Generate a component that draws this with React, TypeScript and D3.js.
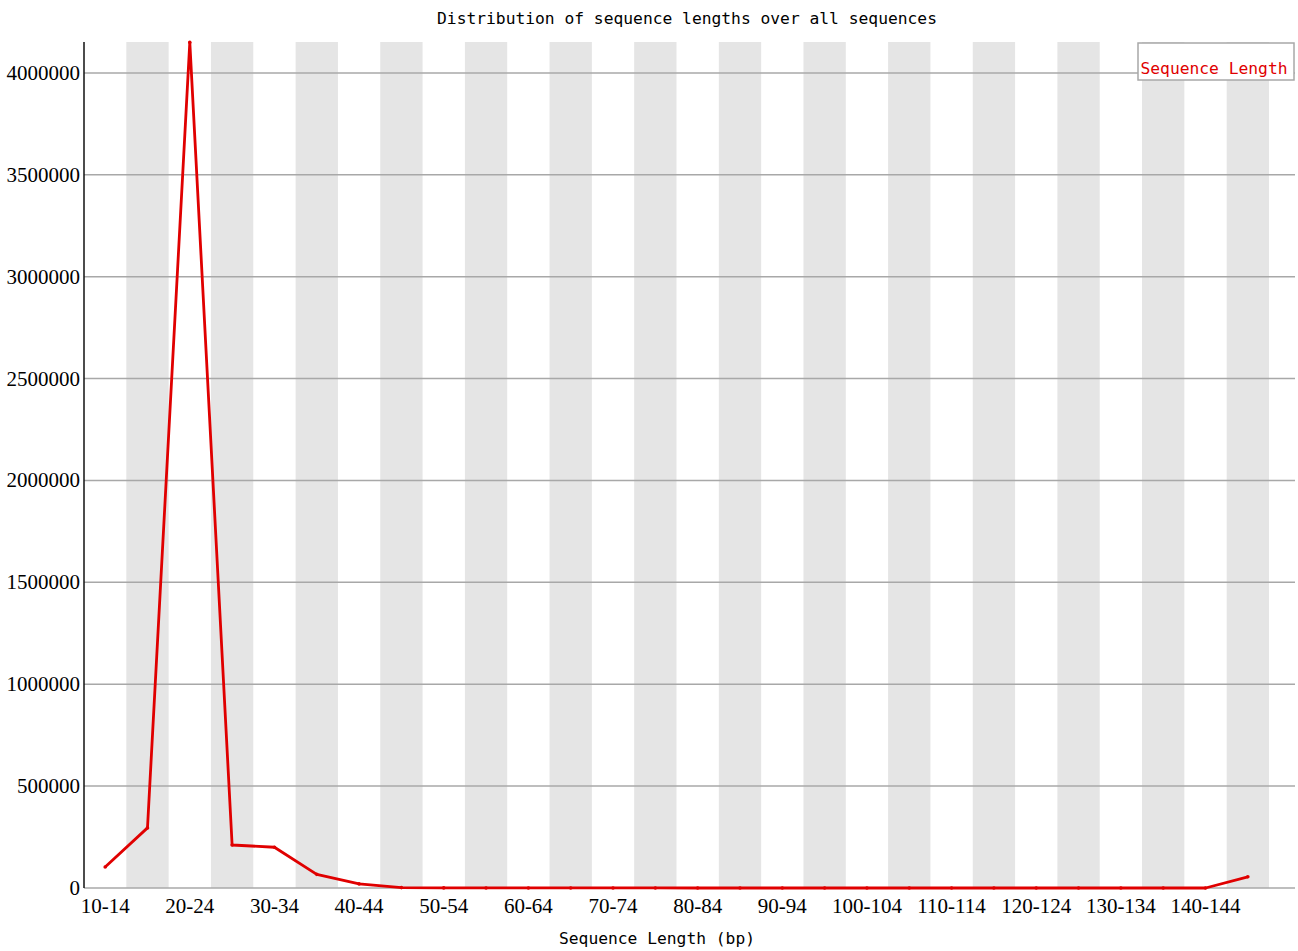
import React from "react";
import * as d3 from "d3";

const categories: string[] = [
  "10-14","15-19","20-24","25-29","30-34","35-39","40-44","45-49","50-54","55-59",
  "60-64","65-69","70-74","75-79","80-84","85-89","90-94","95-99","100-104","105-109",
  "110-114","115-119","120-124","125-129","130-134","135-139","140-144","145-149",
];
const counts: number[] = [
  103000, 295000, 4150000, 211000, 200000, 67000, 20000, 2000, 500, 300,
  200, 200, 150, 150, 100, 100, 100, 100, 100, 100,
  100, 100, 100, 100, 100, 100, 100, 55000,
];
const yTicks: number[] = [0, 500000, 1000000, 1500000, 2000000, 2500000, 3000000, 3500000, 4000000];
const title = "Distribution of sequence lengths over all sequences";
const xTitle = "Sequence Length (bp)";
const legendLabel = "Sequence Length";

const W = 1298, H = 951;
const left = 84, top = 42, bottom = 888, plotRight = 1295;
const bandRight = 1269;

export default function App() {
  const x = d3.scaleBand<string>().domain(categories).range([left, bandRight]).padding(0);
  const y = d3.scaleLinear().domain([0, 4152000]).range([bottom, top]);
  const line = d3.line<number>()
    .x((_, i) => (x(categories[i]) as number) + x.bandwidth() / 2)
    .y((d) => y(d));
  const mono = "'DejaVu Sans Mono', 'Liberation Mono', monospace";
  const serif = "'Liberation Serif', 'DejaVu Serif', serif";
  return (
    <svg width={W} height={H} style={{ position: "absolute", left: 0, top: 0, background: "#fff" }}>
      <rect x={0} y={0} width={W} height={H} fill="#fff" />
      {categories.map((c, i) =>
        i % 2 === 1 ? (
          <rect key={c} x={x(c)} y={top} width={x.bandwidth()} height={bottom - top} fill="#e5e5e5" />
        ) : null
      )}
      {yTicks.map((t) => (
        <g key={t}>
          <line x1={left} x2={plotRight} y1={y(t)} y2={y(t)} stroke="#a8a8a8" strokeWidth={1.5} />
          <text x={80} y={y(t) + 7} textAnchor="end" fontFamily={serif} fontSize={21} fill="#000">
            {t}
          </text>
        </g>
      ))}
      <line x1={left} x2={left} y1={top} y2={bottom} stroke="#111" strokeWidth={1.5} />
      <path d={line(counts) || ""} fill="none" stroke="#e00000" strokeWidth={2.8} strokeLinejoin="round" />
      {counts.map((v, i) => (
        <circle key={i} cx={(x(categories[i]) as number) + x.bandwidth() / 2} cy={y(v)} r={1.8} fill="#e00000" />
      ))}
      {categories.map((c, i) =>
        i % 2 === 0 ? (
          <text key={c} x={(x(c) as number) + x.bandwidth() / 2} y={913} textAnchor="middle" fontFamily={serif} fontSize={21} fill="#000">
            {c}
          </text>
        ) : null
      )}
      <text x={687} y={24} textAnchor="middle" fontFamily={mono} fontSize={16.3} fill="#000">{title}</text>
      <text x={657} y={944} textAnchor="middle" fontFamily={mono} fontSize={16.3} fill="#000">{xTitle}</text>
      <rect x={1138} y={43} width={156} height={37} fill="#fff" stroke="#a8a8a8" strokeWidth={1.5} />
      <text x={1214} y={74} textAnchor="middle" fontFamily={mono} fontSize={16.3} fill="#e00000">{legendLabel}</text>
    </svg>
  );
}
